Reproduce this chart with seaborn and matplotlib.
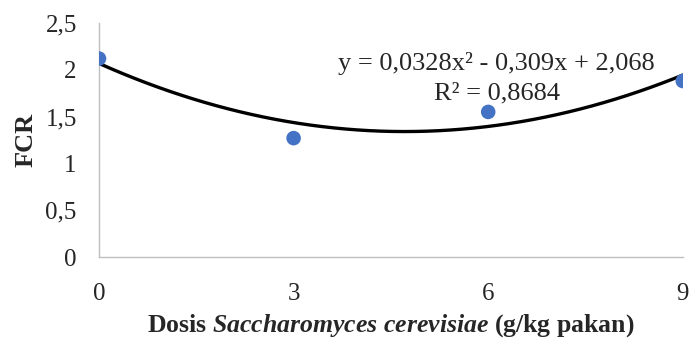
import numpy as np
import matplotlib
matplotlib.use("Agg")
import matplotlib.pyplot as plt
import seaborn as sns
from matplotlib.ticker import FuncFormatter

# data
dosis = [0, 3, 6, 9]
fcr = [2.12, 1.27, 1.55, 1.88]
coef = [0.0328, -0.309, 2.068]   # trendline y = a x^2 + b x + c
r2 = 0.8684
xticks = [0, 3, 6, 9]
yticks = [0, 0.5, 1, 1.5, 2, 2.5]

sns.set_style("white")
plt.rcParams['font.family'] = ['Liberation Serif', 'DejaVu Serif']
plt.rcParams['mathtext.fontset'] = 'custom'
plt.rcParams['mathtext.rm'] = 'Liberation Serif:bold'
plt.rcParams['mathtext.it'] = 'Liberation Serif:italic:bold'
plt.rcParams['mathtext.bf'] = 'Liberation Serif:bold'

fig = plt.figure(figsize=(6.89, 3.41), dpi=100)
ax = fig.add_axes([0.1437, 0.2463, 0.8473, 0.6863])

xs = np.linspace(min(dosis), max(dosis), 200)
ys = np.polyval(coef, xs)
sns.lineplot(x=xs, y=ys, color='black', linewidth=2.4, ax=ax)
sns.scatterplot(x=dosis, y=fcr, color='#4472C4', s=110, edgecolor='none', ax=ax, zorder=3)

ax.set_xlim(0, 9)
ax.set_ylim(0, 2.5)
ax.set_xticks(xticks)
ax.set_yticks(yticks)
fmt = FuncFormatter(lambda v, p: ('%g' % v).replace('.', ','))
ax.xaxis.set_major_formatter(fmt)
ax.yaxis.set_major_formatter(fmt)
ax.tick_params(axis='both', length=0, labelsize=18)
ax.tick_params(axis='y', pad=16)
ax.tick_params(axis='x', pad=19)

for s in ['top', 'right']:
    ax.spines[s].set_visible(False)
for s in ['left', 'bottom']:
    ax.spines[s].set_color('#bfbfbf')
    ax.spines[s].set_linewidth(1.0)

ax.set_xlabel('Dosis $\\it{Saccharomyces\\ cerevisiae}$ (g/kg pakan)',
              fontsize=18.5, fontweight='bold', labelpad=5)
ax.set_ylabel('FCR', fontsize=19, fontweight='bold', labelpad=6)

ax.text(6.13, 2.07, 'y = 0,0328x² - 0,309x + 2,068', ha='center', va='center', fontsize=19)
ax.text(6.13, 1.75, 'R² = ' + ('%g' % r2).replace('.', ','), ha='center', va='center', fontsize=19)

fig.savefig('out.png', dpi=100)
